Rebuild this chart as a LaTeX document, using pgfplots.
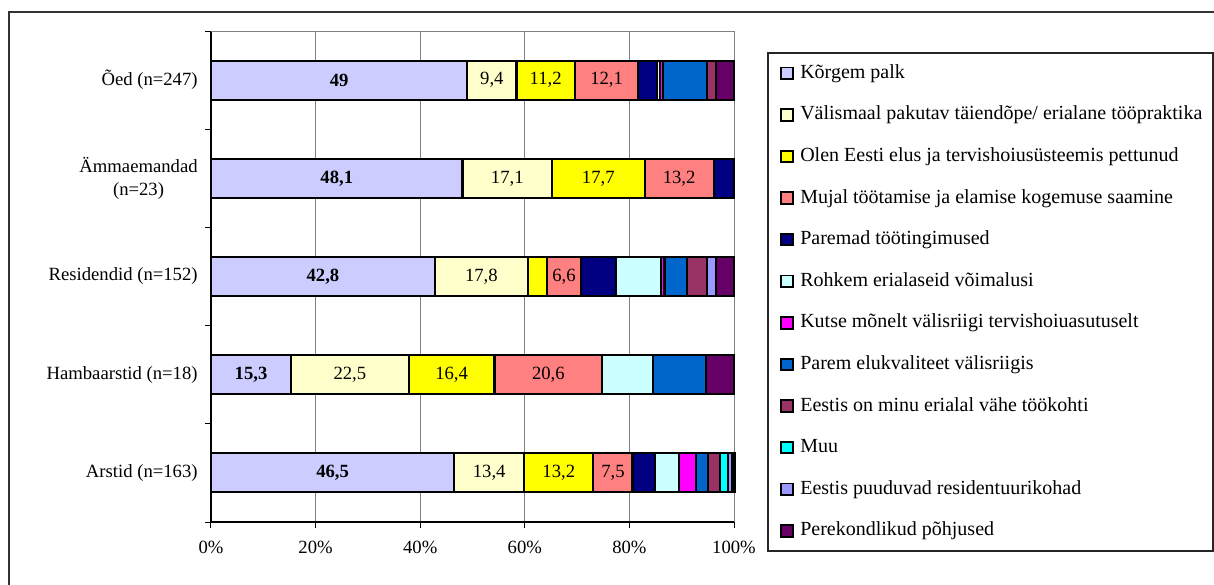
\documentclass[border=0pt]{standalone}
\usepackage{pgfplots}
\pgfplotsset{compat=1.18}
\usepackage{fontspec}
\setmainfont{Liberation Serif}
\definecolor{c1}{HTML}{CCCCFF}
\definecolor{c2}{HTML}{FFFFCC}
\definecolor{c3}{HTML}{FFFF00}
\definecolor{c4}{HTML}{FF8080}
\definecolor{c5}{HTML}{000080}
\definecolor{c6}{HTML}{CCFFFF}
\definecolor{c7}{HTML}{FF00FF}
\definecolor{c8}{HTML}{0066CC}
\definecolor{c9}{HTML}{993366}
\definecolor{c10}{HTML}{00FFFF}
\definecolor{c11}{HTML}{9999FF}
\definecolor{c12}{HTML}{660066}
\definecolor{gridgray}{HTML}{808080}
\begin{document}
\begin{tikzpicture}[font=\fontsize{14}{17}\selectfont]
\useasboundingbox (0pt,0pt) rectangle (910.5pt,-438.75pt);
% outer frame (left and top visible)
\draw[black!80, line width=1pt] (6.75pt,-440pt) -- (6.75pt,-9pt) -- (912pt,-9pt);
% legend frame
\draw[black!85, line width=0.9pt] (576pt,-39.75pt) rectangle (909.75pt,-413.25pt);
\begin{axis}[
  at={(158.25pt,-391.5pt)}, anchor=south west,
  scale only axis, width=392.25pt, height=368.25pt,
  xbar stacked, bar width=29.25pt,
  xmin=0, xmax=100, ymin=-0.5, ymax=4.5,
  enlargelimits=false, clip=false,
  axis x line*=bottom, axis y line*=left,
  axis line style={black, line width=0.9pt, -},
  xmajorgrids, grid style={gridgray, line width=0.75pt},
  xtick={0,20,40,60,80,100},
  xticklabels={0\%,20\%,40\%,60\%,80\%,100\%},
  tick align=outside, major tick length=4.5pt,
  tick style={black, line width=0.75pt},
  xticklabel style={yshift=-6pt},
  ytick={-0.5,0.5,1.5,2.5,3.5,4.5}, yticklabels={},
  extra y ticks={0,1,2,3,4},
  extra y tick labels={Arstid (n=163),Hambaarstid (n=18),Residendid (n=152),{Ämmaemandad\\(n=23)},Õed (n=247)},
  extra y tick style={major tick length=0pt, yticklabel style={align=center, xshift=-6.5pt}},
  bb/.style={draw=black, line width=1.6pt, fill=#1},
  legend style={draw=none, fill=none, at={(1.088,0.93415)}, anchor=north west,
    inner sep=0pt, row sep=16.7pt, column sep=5pt,
    font=\fontsize{15}{18}\selectfont,
    nodes={inner sep=0pt, text height=11pt, text depth=3.5pt}},
  legend cell align=left,
  legend image code/.code={\draw[#1, draw=black, line width=1.4pt] (0pt,-4.3pt) rectangle (8.6pt,4.3pt);},
]
\addplot[bb=c1] coordinates {(46.5,0) (15.3,1) (42.8,2) (48.1,3) (49,4)};
\addplot[bb=c2] coordinates {(13.4,0) (22.5,1) (17.8,2) (17.1,3) (9.4,4)};
\addplot[bb=c3] coordinates {(13.2,0) (16.4,1) (3.6,2) (17.7,3) (11.2,4)};
\addplot[bb=c4] coordinates {(7.5,0) (20.6,1) (6.6,2) (13.2,3) (12.1,4)};
\addplot[bb=c5] coordinates {(4.3,0) (0,1) (6.6,2) (3.9,3) (3.5,4)};
\addplot[bb=c6] coordinates {(4.5,0) (9.7,1) (8.6,2) (0,3) (0.7,4)};
\addplot[bb=c7] coordinates {(3.3,0) (0,1) (0.7,2) (0,3) (0.6,4)};
\addplot[bb=c8] coordinates {(2.3,0) (10.1,1) (4.3,2) (0,3) (8.3,4)};
\addplot[bb=c9] coordinates {(2.3,0) (0,1) (3.8,2) (0,3) (1.8,4)};
\addplot[bb=c10] coordinates {(1.5,0) (0,1) (0,2) (0,3) (0,4)};
\addplot[bb=c11] coordinates {(0.8,0) (0,1) (1.8,2) (0,3) (0,4)};
\addplot[bb=c12] coordinates {(0.5,0) (5.4,1) (3.4,2) (0,3) (3.4,4)};
\legend{Kõrgem palk,
Välismaal pakutav täiendõpe/ erialane tööpraktika,
Olen Eesti elus ja tervishoiusüsteemis pettunud,
Mujal töötamise ja elamise kogemuse saamine,
Paremad töötingimused,
Rohkem erialaseid võimalusi,
Kutse mõnelt välisriigi tervishoiuasutuselt,
Parem elukvaliteet välisriigis,
Eestis on minu erialal vähe töökohti,
Muu,
Eestis puuduvad residentuurikohad,
Perekondlikud põhjused}
\draw[gridgray, line width=0.75pt] (rel axis cs:0,1) -- (rel axis cs:1,1);
\end{axis}
\begin{axis}[
  at={(158.25pt,-391.5pt)}, anchor=south west,
  scale only axis, width=392.25pt, height=368.25pt,
  xmin=0, xmax=100, ymin=-0.5, ymax=4.5,
  enlargelimits=false, clip=false, hide axis,
  nodes near coords, point meta=explicit symbolic,
  nodes near coords align=center,
]
\addplot[draw=none, mark=none, nodes near coords style={font=\fontsize{14}{17}\selectfont\bfseries, anchor=center}]
  coordinates {(23.25,0) [46,5] (7.65,1) [15,3] (21.4,2) [42,8] (24.05,3) [48,1] (24.5,4) [49]};
\addplot[draw=none, mark=none, nodes near coords style={anchor=center}]
  coordinates {(53.2,0) [13,4] (26.55,1) [22,5] (51.7,2) [17,8] (56.65,3) [17,1] (53.7,4) [9,4]};
\addplot[draw=none, mark=none, nodes near coords style={anchor=center}]
  coordinates {(66.5,0) [13,2] (46.0,1) [16,4] (74.05,3) [17,7] (64.0,4) [11,2]};
\addplot[draw=none, mark=none, nodes near coords style={anchor=center}]
  coordinates {(76.85,0) [7,5] (64.5,1) [20,6] (67.5,2) [6,6] (89.5,3) [13,2] (75.65,4) [12,1]};
\end{axis}
\end{tikzpicture}
\end{document}
